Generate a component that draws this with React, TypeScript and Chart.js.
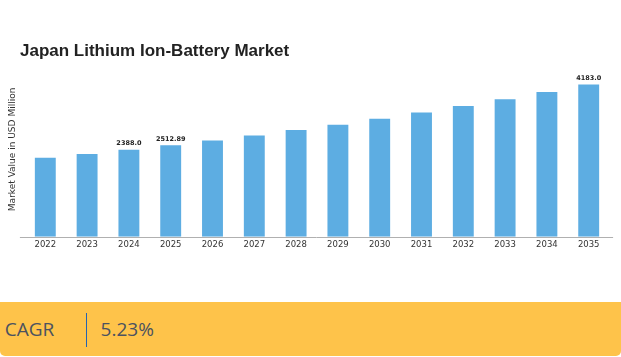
import React, { useEffect, useRef } from "react";
import { Chart, registerables } from "chart.js";

Chart.register(...registerables);

const TITLE = "Japan Lithium Ion-Battery Market";
const Y_TITLE = "Market Value in USD Million";
const YEARS = ["2022", "2023", "2024", "2025", "2026", "2027", "2028", "2029", "2030", "2031", "2032", "2033", "2034", "2035"];
const VALUES = [2168, 2277, 2388.0, 2512.89, 2645, 2781, 2935, 3080, 3242, 3416, 3594, 3776, 3974, 4183.0];
const VALUE_LABELS = ["", "", "2388.0", "2512.89", "", "", "", "", "", "", "", "", "", "4183.0"];
const CAGR_LABEL = "CAGR";
const CAGR_VALUE = "5.23%";

const BAR_COLOR = "#5DADE2";

const valueLabelPlugin = {
  id: "valueLabels",
  afterDatasetsDraw(chart: any) {
    const ctx = chart.ctx;
    const meta = chart.getDatasetMeta(0);
    ctx.save();
    ctx.font = "bold 6.5px 'DejaVu Sans'";
    ctx.fillStyle = "#222";
    ctx.textAlign = "center";
    ctx.textBaseline = "bottom";
    meta.data.forEach((bar: any, i: number) => {
      const t = VALUE_LABELS[i];
      if (t) ctx.fillText(t, bar.x, bar.y - 3);
    });
    ctx.restore();
  },
};

const axisLinePlugin = {
  id: "axisLine",
  afterDraw(chart: any) {
    const { ctx, chartArea } = chart;
    ctx.save();
    ctx.strokeStyle = "#b0b0b0";
    ctx.lineWidth = 1;
    ctx.beginPath();
    const y = Math.round(chartArea.bottom) + 0.5;
    ctx.moveTo(chartArea.left - 4.5, y);
    ctx.lineTo(chartArea.right + 3.5, y);
    ctx.stroke();
    ctx.restore();
  },
};

export default function App() {
  const ref = useRef<HTMLCanvasElement | null>(null);

  useEffect(() => {
    if (!ref.current) return;
    const chart = new Chart(ref.current, {
      type: "bar",
      data: {
        labels: YEARS,
        datasets: [
          {
            data: VALUES,
            backgroundColor: BAR_COLOR,
            borderWidth: 0,
            categoryPercentage: 1,
            barPercentage: 0.5,
          },
        ],
      },
      options: {
        responsive: false,
        animation: false,
        devicePixelRatio: 1,
        layout: { padding: { top: 62, left: 3.6, right: 11.4, bottom: 6 } },
        plugins: {
          legend: { display: false },
          tooltip: { enabled: false },
          title: { display: false },
        },
        scales: {
          x: {
            grid: { display: false, drawTicks: false },
            border: { display: false },
            ticks: {
              color: "#333",
              font: { family: "'DejaVu Sans'", size: 8.5 },
              padding: 2.5,
              maxRotation: 0,
              autoSkip: false,
            },
          },
          y: {
            min: 0,
            max: 4800,
            grid: { display: false, drawTicks: false },
            border: { display: false },
            ticks: { display: false },
            title: {
              display: true,
              text: Y_TITLE,
              color: "#333",
              font: { family: "'DejaVu Sans'", size: 9 },
              padding: { top: 4, bottom: 6 },
            },
          },
        },
      },
      plugins: [valueLabelPlugin, axisLinePlugin],
    });
    return () => chart.destroy();
  }, []);

  return (
    <div
      style={{
        position: "fixed",
        left: 0,
        top: 0,
        width: 621,
        height: 357,
        background: "#fff",
        overflow: "hidden",
      }}
    >
      <div
        style={{
          position: "absolute",
          left: 20,
          top: 42.3,
          fontFamily: "'Liberation Sans', Arial, sans-serif",
          fontWeight: "bold",
          fontSize: 17,
          lineHeight: "17px",
          color: "#222",
          whiteSpace: "nowrap",
          zIndex: 2,
        }}
      >
        {TITLE}
      </div>
      <canvas
        ref={ref}
        width={621}
        height={258}
        style={{ position: "absolute", left: 0, top: 0, width: 621, height: 258 }}
      />
      <div
        style={{
          position: "absolute",
          left: 0,
          top: 302,
          width: 621,
          height: 54,
          background: "#FEC34A",
          borderRadius: "0 0 5px 5px",
          fontFamily: "'Open Sans', sans-serif",
          fontSize: 19,
          lineHeight: "19px",
          color: "#4b5260",
        }}
      >
        <div style={{ position: "absolute", left: 4.8, top: 17.8, whiteSpace: "nowrap" }}>{CAGR_LABEL}</div>
        <div
          style={{
            position: "absolute",
            left: 86,
            top: 11,
            width: 1.2,
            height: 34,
            background: "#2563b0",
          }}
        />
        <div style={{ position: "absolute", left: 100.6, top: 17.8, whiteSpace: "nowrap" }}>{CAGR_VALUE}</div>
      </div>
    </div>
  );
}
